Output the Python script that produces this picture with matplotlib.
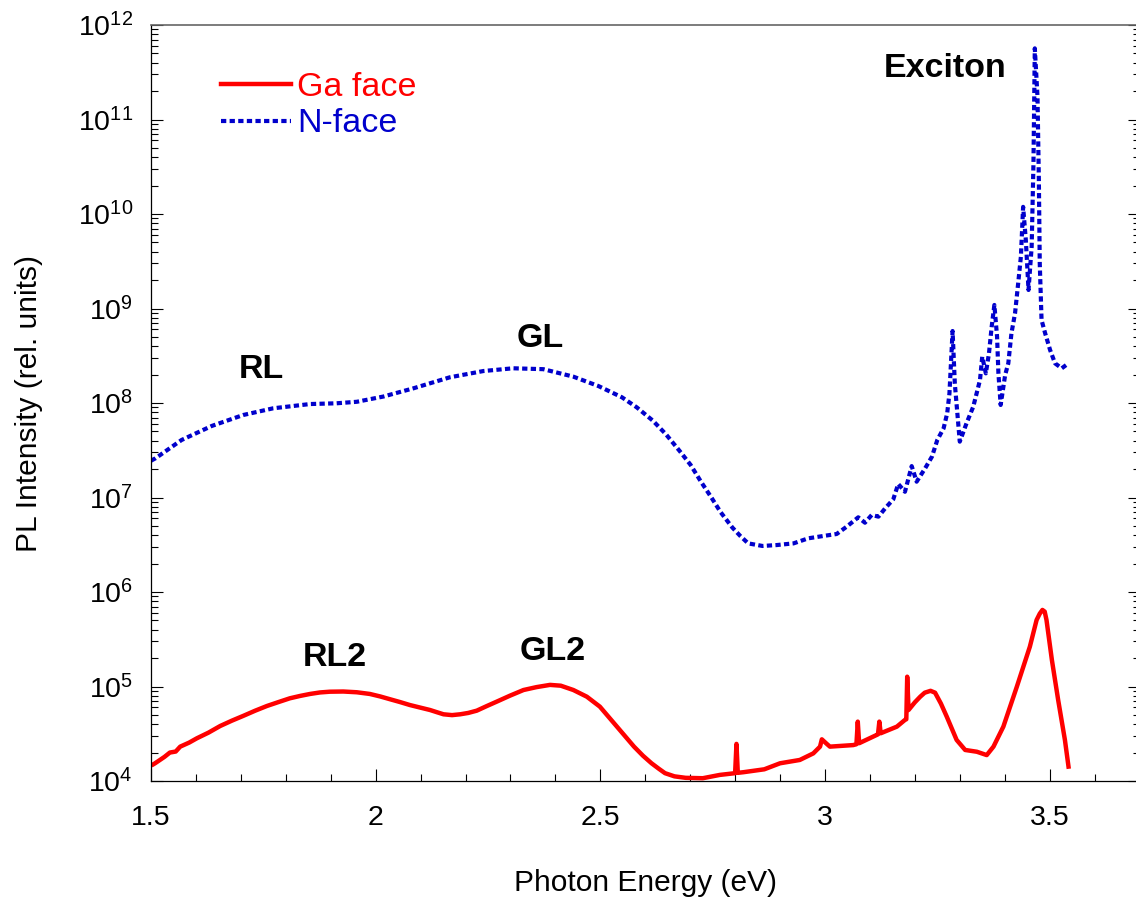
import matplotlib
matplotlib.use("Agg")
import matplotlib.pyplot as plt
from matplotlib.ticker import LogLocator, MultipleLocator, NullFormatter

plt.rcParams['font.family'] = ['Liberation Sans', 'DejaVu Sans']
plt.rcParams['mathtext.fontset'] = 'custom'
plt.rcParams['mathtext.rm'] = 'Liberation Sans'
plt.rcParams['mathtext.it'] = 'Liberation Sans:italic'
plt.rcParams['mathtext.bf'] = 'Liberation Sans:bold'
plt.rcParams['lines.scale_dashes'] = False

# ---- data ----
n_face_energy = [1.500, 1.510, 1.568, 1.635, 1.705, 1.772, 1.854, 1.913, 1.958, 2.017,
                 2.084, 2.165, 2.240, 2.306, 2.373, 2.440, 2.496, 2.548, 2.581, 2.617,
                 2.646, 2.676, 2.701, 2.724, 2.746, 2.768, 2.794, 2.811, 2.829, 2.861,
                 2.893, 2.930, 2.963, 3.000, 3.026, 3.048, 3.074, 3.089, 3.104, 3.119,
                 3.134, 3.152, 3.163, 3.178, 3.193, 3.204, 3.223, 3.238, 3.250, 3.264,
                 3.272, 3.277, 3.284, 3.289, 3.300, 3.315, 3.330, 3.345, 3.350, 3.358,
                 3.365, 3.371, 3.377, 3.383, 3.386, 3.391, 3.401, 3.408, 3.415, 3.423,
                 3.430, 3.436, 3.441, 3.447, 3.453, 3.460, 3.464, 3.467, 3.473, 3.476,
                 3.478, 3.482, 3.490, 3.501, 3.512, 3.527, 3.542]
n_face_intensity = [2.45e7, 2.60e7, 4.06e7, 5.71e7, 7.46e7, 8.79e7, 9.75e7, 9.93e7, 1.03e8, 1.17e8,
                    1.43e8, 1.87e8, 2.18e8, 2.33e8, 2.28e8, 1.90e8, 1.51e8, 1.15e8, 9.0e7, 6.50e7,
                    4.67e7, 3.13e7, 2.21e7, 1.47e7, 1.02e7, 6.97e6, 4.80e6, 3.94e6, 3.27e6, 3.07e6,
                    3.14e6, 3.27e6, 3.70e6, 3.94e6, 4.11e6, 4.90e6, 6.17e6, 5.41e6, 6.53e6, 6.27e6,
                    7.69e6, 9.57e6, 1.39e7, 1.15e7, 2.15e7, 1.47e7, 2.04e7, 2.70e7, 4.06e7, 5.40e7,
                    7.78e7, 1.26e8, 5.78e8, 1.60e8, 3.90e7, 6.10e7, 9.14e7, 1.75e8, 3.09e8, 2.06e8,
                    3.36e8, 6.41e8, 1.09e9, 5.04e8, 2.06e8, 9.53e7, 1.98e8, 2.63e8, 5.47e8, 8.91e8,
                    1.85e9, 3.53e9, 1.19e10, 5.31e9, 1.57e9, 4.51e9, 3.44e10, 5.66e11, 1.74e11, 2.29e10,
                    3.01e9, 7.55e8, 5.47e8, 3.64e8, 2.63e8, 2.33e8, 2.63e8]

ga_face_energy = [1.505, 1.509, 1.530, 1.542, 1.555, 1.565, 1.585, 1.602, 1.628, 1.654,
                  1.680, 1.705, 1.732, 1.758, 1.784, 1.809, 1.832, 1.854, 1.876, 1.898,
                  1.928, 1.958, 1.987, 2.010, 2.032, 2.054, 2.076, 2.098, 2.121, 2.136,
                  2.151, 2.170, 2.188, 2.206, 2.225, 2.247, 2.269, 2.299, 2.329, 2.358,
                  2.388, 2.412, 2.440, 2.470, 2.499, 2.537, 2.575, 2.595, 2.614, 2.630,
                  2.644, 2.665, 2.690, 2.728, 2.766, 2.800, 2.803, 2.806, 2.819, 2.865,
                  2.900, 2.944, 2.974, 2.989, 2.993, 3.004, 3.011, 3.063, 3.070, 3.073,
                  3.076, 3.115, 3.118, 3.121, 3.124, 3.160, 3.178, 3.181, 3.183, 3.186,
                  3.200, 3.212, 3.222, 3.235, 3.245, 3.258, 3.271, 3.293, 3.312, 3.338,
                  3.360, 3.375, 3.397, 3.427, 3.456, 3.471, 3.478, 3.484, 3.489, 3.493,
                  3.505, 3.519, 3.529, 3.534, 3.542]
ga_face_intensity = [1.50e4, 1.54e4, 1.80e4, 2.00e4, 2.05e4, 2.31e4, 2.55e4, 2.83e4, 3.25e4, 3.82e4,
                     4.35e4, 4.88e4, 5.55e4, 6.22e4, 6.85e4, 7.50e4, 7.95e4, 8.34e4, 8.65e4, 8.81e4,
                     8.85e4, 8.69e4, 8.34e4, 7.85e4, 7.33e4, 6.85e4, 6.37e4, 6.00e4, 5.64e4, 5.35e4,
                     5.08e4, 4.98e4, 5.08e4, 5.25e4, 5.55e4, 6.20e4, 6.90e4, 8.00e4, 9.18e4, 9.85e4,
                     1.04e5, 1.02e5, 9.18e4, 7.80e4, 6.12e4, 3.76e4, 2.31e4, 1.85e4, 1.54e4, 1.35e4,
                     1.21e4, 1.12e4, 1.08e4, 1.07e4, 1.16e4, 1.21e4, 2.47e4, 1.22e4, 1.24e4, 1.33e4,
                     1.54e4, 1.67e4, 1.96e4, 2.31e4, 2.76e4, 2.47e4, 2.31e4, 2.40e4, 2.45e4, 4.25e4,
                     2.51e4, 3.07e4, 3.12e4, 4.25e4, 3.20e4, 3.76e4, 4.43e4, 4.50e4, 1.27e5, 5.64e4,
                     6.80e4, 7.80e4, 8.60e4, 9.00e4, 8.60e4, 6.60e4, 4.80e4, 2.72e4, 2.13e4, 2.04e4,
                     1.88e4, 2.31e4, 3.76e4, 9.95e4, 2.64e5, 5.06e5, 5.90e5, 6.46e5, 6.20e5, 5.06e5,
                     1.91e5, 7.19e4, 3.76e4, 2.72e4, 1.42e4]

series_labels = ["Ga face", "N-face"]
x_tick_values = [1.5, 2.0, 2.5, 3.0, 3.5]
x_tick_labels = ["1.5", "2", "2.5", "3", "3.5"]
peak_labels = ["Exciton", "RL", "GL", "RL2", "GL2"]
peak_label_x = [3.267, 1.746, 2.366, 1.910, 2.393]
peak_label_y = [2.8e11, 1.82e8, 3.95e8, 1.65e5, 1.91e5]

RED = "#FF0000"
BLUE = "#0000CC"

fig = plt.figure(figsize=(11.36, 9.02), dpi=100)
ax = fig.add_axes([151 / 1136, (902 - 781) / 902, (1139.5 - 151) / 1136, 756 / 902])

ax.plot(ga_face_energy, ga_face_intensity, color=RED, lw=3.2, solid_joinstyle='round',
        label=series_labels[0])
ax.plot(n_face_energy, n_face_intensity, color=BLUE, lw=3.0,
        linestyle=(0, (3.8, 2.4)), label=series_labels[1])

ax.set_yscale('log')
ax.set_xlim(1.5, 3.7)
ax.set_ylim(1e4, 1e12)

ax.xaxis.set_minor_locator(MultipleLocator(0.1))
ax.set_xticks(x_tick_values)
ax.set_xticklabels(x_tick_labels)
ax.yaxis.set_major_locator(LogLocator(base=10, numticks=20))
ax.yaxis.set_minor_locator(LogLocator(base=10, subs=range(2, 10), numticks=100))
ax.yaxis.set_minor_formatter(NullFormatter())

ax.tick_params(axis='both', which='both', direction='in', top=False, right=True,
               colors='black', width=0.8)
ax.tick_params(axis='both', which='major', length=8.6, labelsize=20.5)
ax.tick_params(axis='both', which='minor', length=5)
ax.tick_params(axis='x', which='major', pad=17.5)
ax.tick_params(axis='y', which='major', pad=13)

for side in ['left', 'bottom']:
    ax.spines[side].set_linewidth(0.9)
    ax.spines[side].set_color('black')
ax.spines['top'].set_color('#666666')
ax.spines['top'].set_linewidth(1.2)
ax.spines['right'].set_color('#666666')

ax.set_xlabel("Photon Energy (eV)", fontsize=21.5)
ax.set_ylabel("PL Intensity (rel. units)", fontsize=21.5)
ax.xaxis.set_label_coords(0.5, -0.117)
ax.yaxis.set_label_coords(-0.109, 0.5)

for lab, lx, ly in zip(peak_labels, peak_label_x, peak_label_y):
    ax.text(lx, ly, lab, fontsize=24.5, fontweight='bold', ha='center', va='baseline')

leg = ax.legend(loc='upper left', bbox_to_anchor=(221 / 1136, 1 - 71.7 / 902),
                bbox_transform=fig.transFigure, frameon=False, fontsize=24.5,
                handlelength=2.06, handletextpad=0.18, labelspacing=0.17,
                borderpad=0, borderaxespad=0, labelcolor='linecolor')

fig.savefig("out.png", dpi=100)
